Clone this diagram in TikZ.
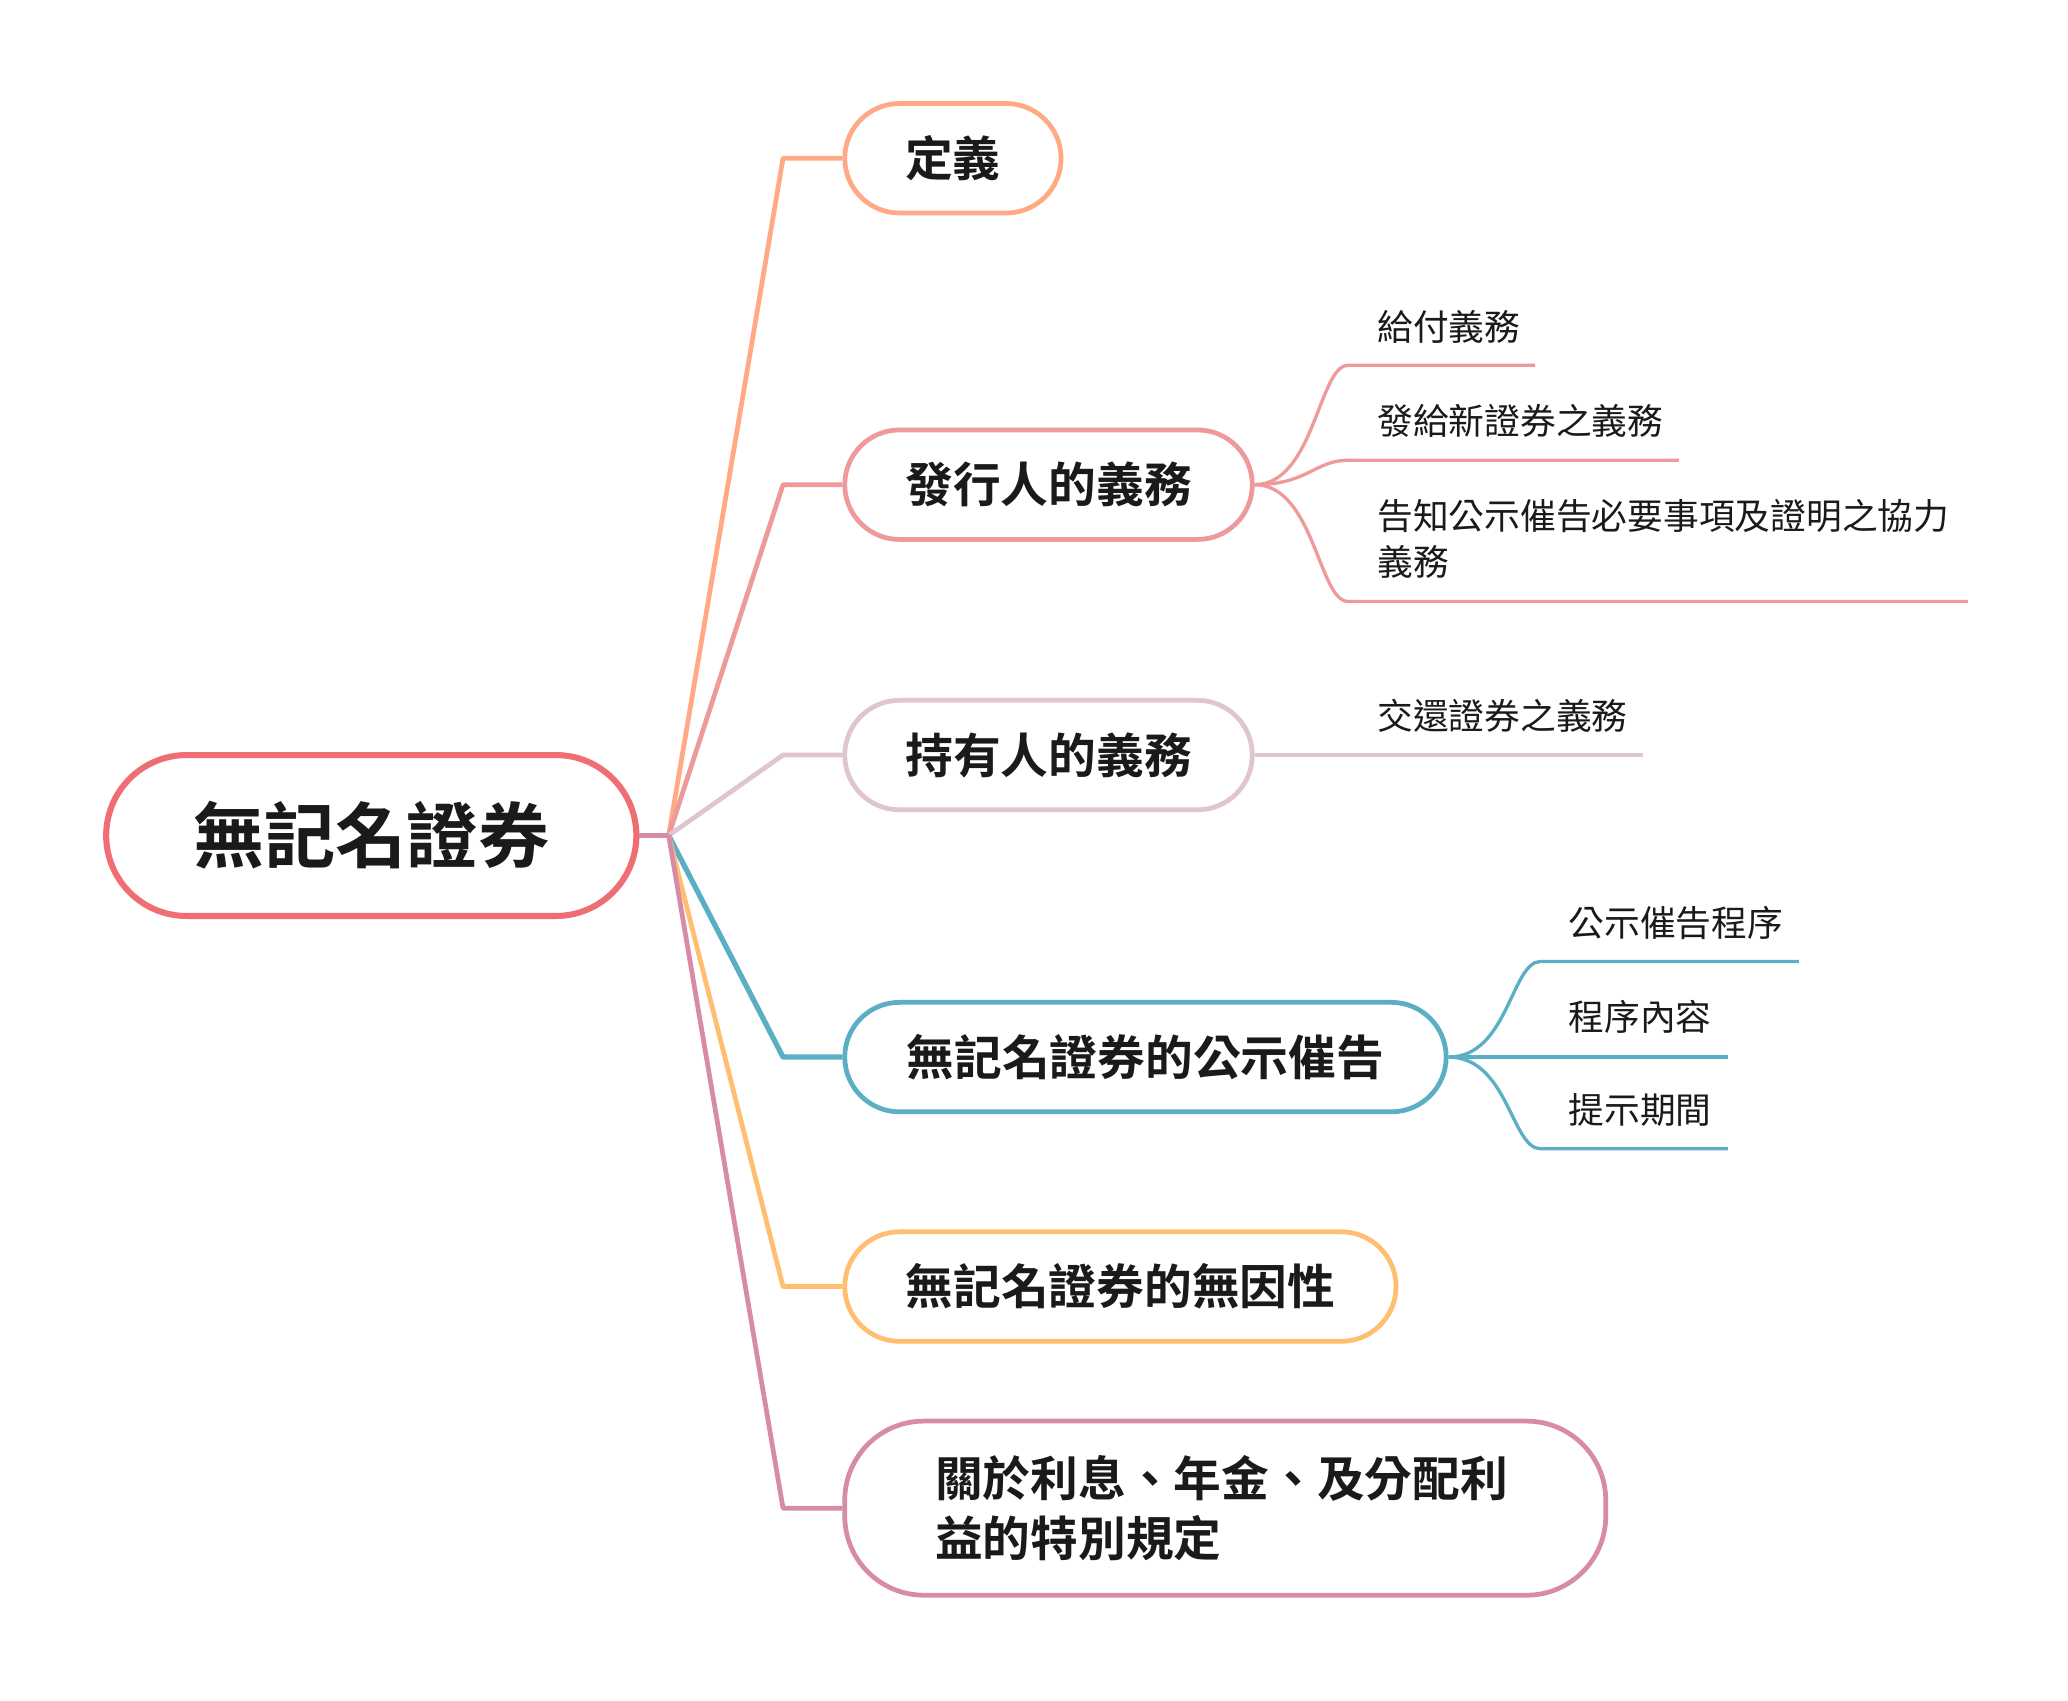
\documentclass[tikz,border=0pt]{standalone}
\usepackage{fontspec}
\setmainfont{Noto Sans CJK TC}[BoldFont={Noto Sans CJK TC Bold}]
\usetikzlibrary{calc}
\definecolor{tx}{HTML}{1A1A1A}
\definecolor{croot}{HTML}{EE6E73}
\definecolor{ca}{HTML}{FFA987}
\definecolor{cb}{HTML}{EF9A9A}
\definecolor{cc}{HTML}{DFC6CD}
\definecolor{cd}{HTML}{5BAFC5}
\definecolor{ce}{HTML}{FFBE70}
\definecolor{cf}{HTML}{D88BA6}
\begin{document}
\begin{tikzpicture}[x=0.5pt,y=-0.5pt,
  box/.style={draw, fill=white, line width=1.8pt, font=\bfseries\fontsize{18.1pt}{22.5pt}\selectfont, text=tx, inner sep=0pt, minimum height=41.5pt, rounded corners=20.75pt},
  leaf/.style={anchor=west, inner sep=0pt, font=\fontsize{13.55pt}{17.5pt}\selectfont, text=tx, align=left},
  br/.style={line width=1.8pt, line join=round},
  tw/.style={line width=1.25pt}]
\useasboundingbox (0,0) rectangle (1568,1289);
\fill[white] (0,0) rectangle (1568,1289);

% root
\node[draw=croot, fill=white, line width=2.3pt, rounded corners=30.5pt, minimum width=201pt, minimum height=61pt, inner sep=0pt, font=\bfseries\fontsize{27pt}{32pt}\selectfont, text=tx] (root) at (281.5,633.5) {無記名證券};

% children
\node[box, draw=ca, minimum width=82pt] (n1) at (722.5,120) {定義};
\node[box, draw=cb, minimum width=154.5pt] (n2) at (795,367.5) {發行人的義務};
\node[box, draw=cc, minimum width=154.5pt] (n3) at (795,572.5) {持有人的義務};
\node[box, draw=cd, minimum width=228pt] (n4) at (868.5,801.5) {無記名證券的公示催告};
\node[box, draw=ce, minimum width=209pt] (n5) at (849.5,975.5) {無記名證券的無因性};
\node[box, draw=cf, minimum width=288.5pt, minimum height=66pt, rounded corners=30pt, text width=220pt, align=left] (n6) at (929,1143.5) {關於利息、年金、及分配利\\益的特別規定};

% junction and branches
\coordinate (J) at (507,633.5);
\draw[br, ca] (J) -- ([xshift=-22.5pt]n1.west) -- (n1.west);
\draw[br, cb] (J) -- ([xshift=-22.5pt]n2.west) -- (n2.west);
\draw[br, cc] (J) -- ([xshift=-22.5pt]n3.west) -- (n3.west);
\draw[br, cd, line width=2pt] (J) -- ([xshift=-22.5pt]n4.west) -- (n4.west);
\draw[br, ce] (J) -- ([xshift=-22.5pt]n5.west) -- (n5.west);
\draw[br, cf] (J) -- ([xshift=-22.5pt]n6.west) -- (n6.west);
\draw[br, cf] (root.east) -- (J);

% leaves of n2
\node[leaf] (l21) at (1044,248) {給付義務};
\node[leaf] (l22) at (1044,319) {發給新證券之義務};
\node[leaf] (l23) at (1044,408.5) {告知公示催告必要事項及證明之協力\\義務};
\coordinate (u21) at (1022,277); \coordinate (u21e) at (1164,277);
\coordinate (u22) at (1022,349); \coordinate (u22e) at (1273,349);
\coordinate (u23) at (1022,456); \coordinate (u23e) at (1492,456);
\draw[tw, cb] (n2.east) .. controls ($(n2.east)+(45,0)$) and ($(u21)+(-22,0)$) .. (u21) -- (u21e);
\draw[tw, cb] (n2.east) .. controls ($(n2.east)+(40,0)$) and ($(u22)+(-25,0)$) .. (u22) -- (u22e);
\draw[tw, cb] (n2.east) .. controls ($(n2.east)+(45,0)$) and ($(u23)+(-22,0)$) .. (u23) -- (u23e);

% leaf of n3
\node[leaf] (l31) at (1044,543) {交還證券之義務};
\coordinate (u31e) at (1246,572.5);
\draw[tw, cc] (n3.east) -- (u31e);

% leaves of n4
\node[leaf] (l41) at (1189,700) {公示催告程序};
\node[leaf] (l42) at (1189,771) {程序內容};
\node[leaf] (l43) at (1189,842) {提示期間};
\coordinate (u41) at (1168,729); \coordinate (u41e) at (1364,729);
\coordinate (u42e) at (1310,801.5);
\coordinate (u43) at (1168,871); \coordinate (u43e) at (1310,871);
\draw[tw, cd] (n4.east) .. controls ($(n4.east)+(45,0)$) and ($(u41)+(-22,0)$) .. (u41) -- (u41e);
\draw[tw, cd] (n4.east) -- (u42e);
\draw[tw, cd] (n4.east) .. controls ($(n4.east)+(45,0)$) and ($(u43)+(-22,0)$) .. (u43) -- (u43e);
\end{tikzpicture}
\end{document}
